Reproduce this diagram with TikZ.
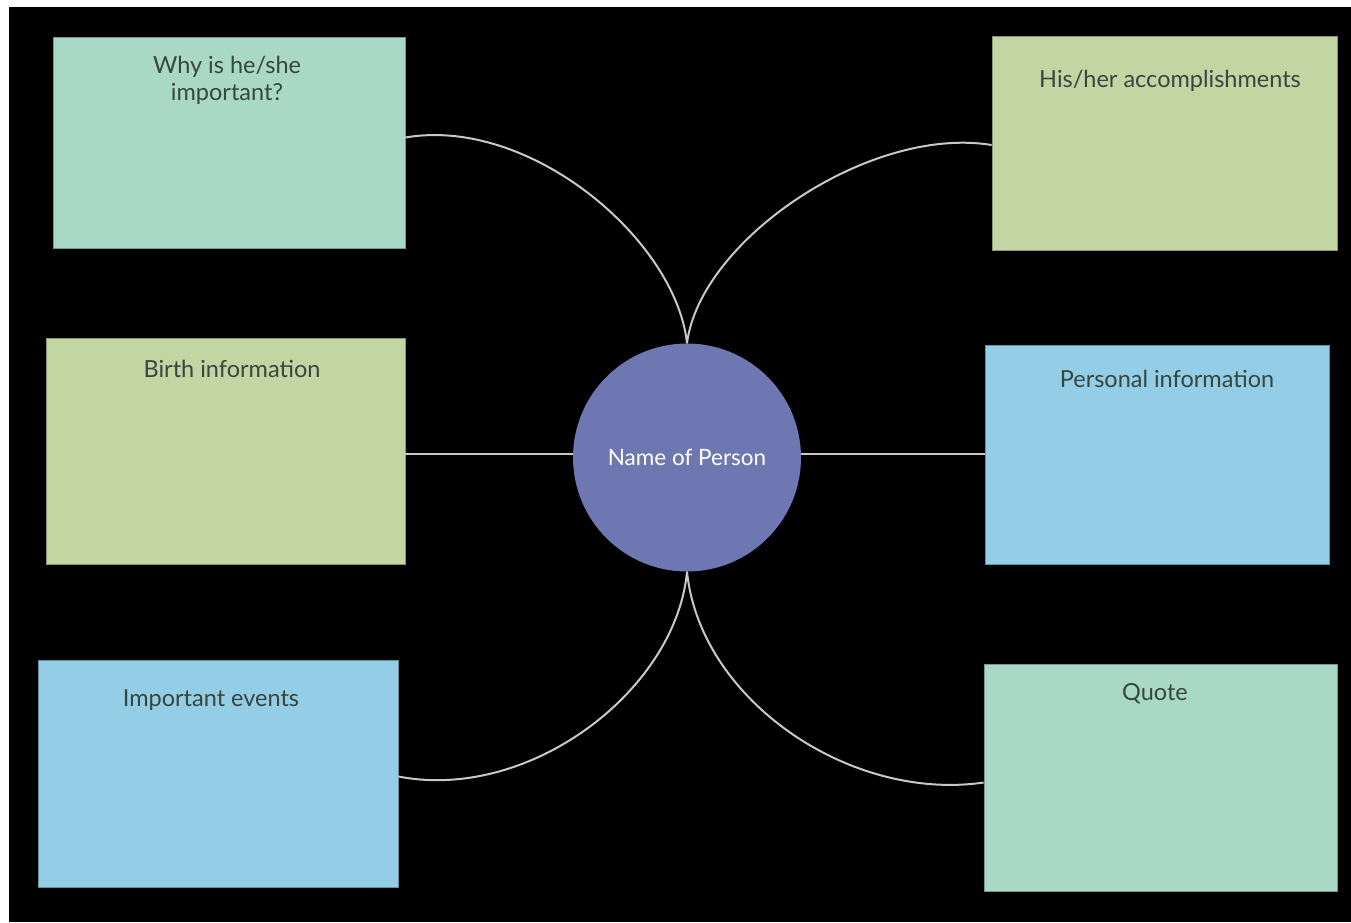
\documentclass[tikz,border=0pt]{standalone}
\usepackage{fontspec}
\setmainfont{Lato}
\definecolor{mint}{HTML}{AAD8C6}
\definecolor{sage}{HTML}{C2D6A4}
\definecolor{sky}{HTML}{93CDE6}
\definecolor{hub}{HTML}{6E77B2}
\definecolor{ink}{HTML}{37463F}
\definecolor{wire}{HTML}{C8C8C8}
\tikzset{
  box/.style={draw=#1!70!black, line width=0.8pt, fill=#1, rectangle, inner sep=0pt},
  lbl/.style={text=ink, font=\fontsize{23.5}{27}\selectfont, align=center, inner sep=0pt},
  link/.style={draw=wire, line width=2pt}
}
\begin{document}
\begin{tikzpicture}[x=1pt,y=-1pt]
\fill[white] (0,0) rectangle (1351,922);
\fill[black] (9,7) rectangle (1351,922);
\useasboundingbox (0,0) rectangle (1351,922);
% boxes
\node[box=mint, minimum width=352pt, minimum height=211pt] (why) at (229,142.5) {};
\node[box=sage, minimum width=345pt, minimum height=214pt] (acc) at (1164.5,143) {};
\node[box=sage, minimum width=359pt, minimum height=226pt] (birth) at (225.5,451) {};
\node[box=sky, minimum width=344pt, minimum height=219pt] (pers) at (1157,454.5) {};
\node[box=sky, minimum width=360pt, minimum height=227pt] (events) at (218,773.5) {};
\node[box=mint, minimum width=353pt, minimum height=227pt] (quote) at (1160.5,777.5) {};
% hub
\node[circle, fill=hub, minimum size=228pt, inner sep=0pt, text=white, font=\fontsize{22.5}{26}\selectfont] (hub) at (687,457.5) {Name of Person};
% labels
\node[lbl] (twhy) at (227,80) {Why is he/she\\important?};
\node[lbl] (tacc) at (1170,81) {His/her accomplishments};
\node[lbl] (tbirth) at (232,369) {Birth information};
\node[lbl] (tpers) at (1167,379) {Personal information};
\node[lbl] (tevents) at (211,700) {Important events};
\node[lbl] (tquote) at (1155,694) {Quote};
% connectors
\draw[link] ([yshift=5pt]why.east) .. controls (530,116) and (676,240) .. (hub.north);
\draw[link] ([yshift=-2pt]acc.west) .. controls (870,125) and (700,240) .. (hub.north);
\draw[link] ([yshift=3.5pt]hub.west) -- ([yshift=3.5pt]birth.east |- hub.west);
\draw[link] ([yshift=3.5pt]hub.east) -- ([yshift=3.5pt]pers.west |- hub.east);
\draw[link] ([yshift=-3pt]events.east) .. controls (530,802) and (676,690) .. (hub.south);
\draw[link] ([yshift=-5pt]quote.west) .. controls (850,802) and (700,700) .. (hub.south);
\end{tikzpicture}
\end{document}
